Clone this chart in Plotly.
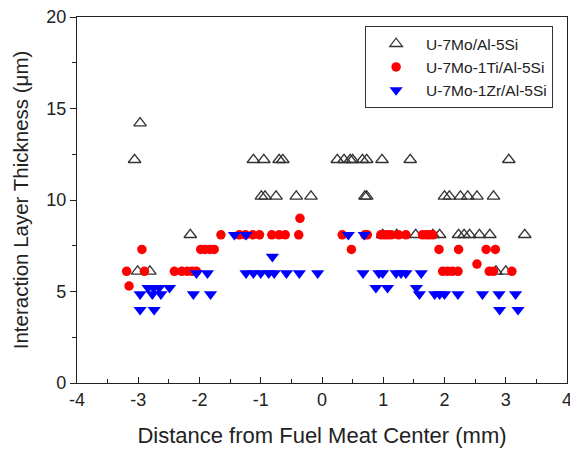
import plotly.graph_objects as go

# U-7Mo/Al-5Si (open triangles)
mo_x = [-2.97, -3.06, -2.15, -3.01, -2.81,
        -1.12, -0.95, -0.70, -0.64, 0.25, 0.36, 0.46, 0.50, 0.66, 0.73, 0.98, 1.44, 3.05,
        -0.99, -0.93, -0.75, -0.42, -0.18, 0.70, 0.73, 2.00, 2.08, 2.26, 2.38, 2.53, 2.80,
        0.99, 1.22, 1.53, 1.81, 1.92, 2.23, 2.32, 2.41, 2.57, 2.74, 3.31,
        2.84, 3.00]
mo_y = [14.2, 12.2, 8.1, 6.1, 6.1,
        12.2, 12.2, 12.2, 12.2, 12.2, 12.2, 12.2, 12.2, 12.2, 12.2, 12.2, 12.2, 12.2,
        10.2, 10.2, 10.2, 10.2, 10.2, 10.2, 10.2, 10.2, 10.2, 10.2, 10.2, 10.2, 10.2,
        8.1, 8.1, 8.1, 8.1, 8.1, 8.1, 8.1, 8.1, 8.1, 8.1, 8.1,
        6.1, 6.1]

# U-7Mo-1Ti/Al-5Si (red circles)
ti_x = [-2.94, -3.19, -3.15, -2.90, -2.41, -2.29, -2.20, -2.12, -2.05,
        -1.98, -1.91, -1.83, -1.76, -1.65,
        -1.35, -1.25, -1.13, -1.02, -0.82, -0.70, -0.60, -0.38, -0.36,
        0.33, 0.48, 0.70, 0.74,
        0.96, 1.02, 1.07, 1.13, 1.25, 1.37, 1.64, 1.70, 1.75, 1.81,
        1.91, 2.23, 2.68, 2.83, 2.53,
        1.97, 2.05, 2.13, 2.22, 2.73, 2.80, 3.10]
ti_y = [7.3, 6.1, 5.3, 6.1, 6.1, 6.1, 6.1, 6.1, 6.1,
        7.3, 7.3, 7.3, 7.3, 8.1,
        8.1, 8.1, 8.1, 8.1, 8.1, 8.1, 8.1, 8.1, 9.0,
        8.1, 7.3, 8.1, 8.1,
        8.1, 8.1, 8.1, 8.1, 8.1, 8.1, 8.1, 8.1, 8.1, 8.1,
        7.3, 7.3, 7.3, 7.3, 6.5,
        6.1, 6.1, 6.1, 6.1, 6.1, 6.1, 6.1]

# U-7Mo-1Zr/Al-5Si (blue down triangles)
zr_x = [-1.43, -1.24, 0.43, 0.69,
        -0.81,
        -2.05, -1.87, -1.24, -1.12, -1.00, -0.87, -0.78, -0.58, -0.37, -0.07,
        0.67, 0.93, 0.99, 1.21, 1.29, 1.37, 1.62,
        -2.84, -2.75, -2.66, -2.49, 0.88, 1.07, 1.54,
        -2.97, -2.77, -2.63, -2.10, -1.82, 1.59, 1.84, 1.92, 2.00, 2.22, 2.62, 2.89, 3.16,
        -2.97, -2.74, 2.90, 3.20]
zr_y = [8.1, 8.1, 8.1, 8.1,
        6.9,
        6.0, 6.0, 6.0, 6.0, 6.0, 6.0, 6.0, 6.0, 6.0, 6.0,
        6.0, 6.0, 6.0, 6.0, 6.0, 6.0, 6.0,
        5.2, 5.2, 5.2, 5.2, 5.2, 5.2, 5.2,
        4.85, 4.85, 4.85, 4.85, 4.85, 4.85, 4.85, 4.85, 4.85, 4.85, 4.85, 4.85, 4.85,
        4.0, 4.0, 4.0, 4.0]

x_ticks = [-4, -3, -2, -1, 0, 1, 2, 3, 4]
y_ticks = [0, 5, 10, 15, 20]

FONT = "Liberation Sans, Arial, sans-serif"
INK = "#222222"

fig = go.Figure()
fig.add_trace(go.Scatter(
    x=mo_x, y=mo_y, mode="markers", name="U-7Mo/Al-5Si",
    marker=dict(symbol="triangle-up-open", size=11, color="#333333",
                line=dict(width=1.3, color="#333333"))))
fig.add_trace(go.Scatter(
    x=ti_x, y=ti_y, mode="markers", name="U-7Mo-1Ti/Al-5Si",
    marker=dict(symbol="circle", size=9.5, color="#ff0000", line=dict(width=0))))
fig.add_trace(go.Scatter(
    x=zr_x, y=zr_y, mode="markers", name="U-7Mo-1Zr/Al-5Si",
    marker=dict(symbol="triangle-down", size=11.5, color="#0000ff", line=dict(width=0))))

fig.update_layout(
    width=570, height=451,
    margin=dict(l=77, r=3, t=17, b=68, autoexpand=False),
    plot_bgcolor="white", paper_bgcolor="white",
    font=dict(family=FONT, color=INK),
    showlegend=True,
    legend=dict(x=0.588, y=0.975, xanchor="left", yanchor="top",
                bordercolor="#333333", borderwidth=1, bgcolor="white",
                font=dict(size=15.5, family=FONT, color=INK),
                itemwidth=50, tracegroupgap=0),
    xaxis=dict(range=[-4, 4], tickvals=x_ticks, ticktext=[str(v) for v in x_ticks],
               ticks="inside", ticklen=6, tickwidth=1.2, tickcolor=INK,
               minor=dict(dtick=0.5, ticks="inside", ticklen=4, tickcolor=INK, tickwidth=1),
               showline=True, linecolor=INK, linewidth=1.3, mirror=True,
               showgrid=False, zeroline=False, ticklabeloverflow="allow", automargin=False,
               tickfont=dict(size=18, family=FONT, color=INK),
               title=dict(text="Distance from Fuel Meat Center (mm)",
                          font=dict(size=22, family=FONT, color=INK), standoff=18)),
    yaxis=dict(range=[0, 20], tickvals=y_ticks, ticktext=[str(v) for v in y_ticks],
               ticks="outside", ticklen=6, tickwidth=1.2, tickcolor=INK,
               minor=dict(dtick=2.5, ticks="outside", ticklen=4, tickcolor=INK, tickwidth=1),
               showline=True, linecolor=INK, linewidth=1.3, mirror=True,
               showgrid=False, zeroline=False, ticklabeloverflow="allow", automargin=False,
               tickfont=dict(size=18, family=FONT, color=INK),
               title=dict(text="Interaction Layer Thickness (\u03bcm)",
                          font=dict(size=20.5, family=FONT, color=INK), standoff=12)),
)

fig.write_html("out.html")
